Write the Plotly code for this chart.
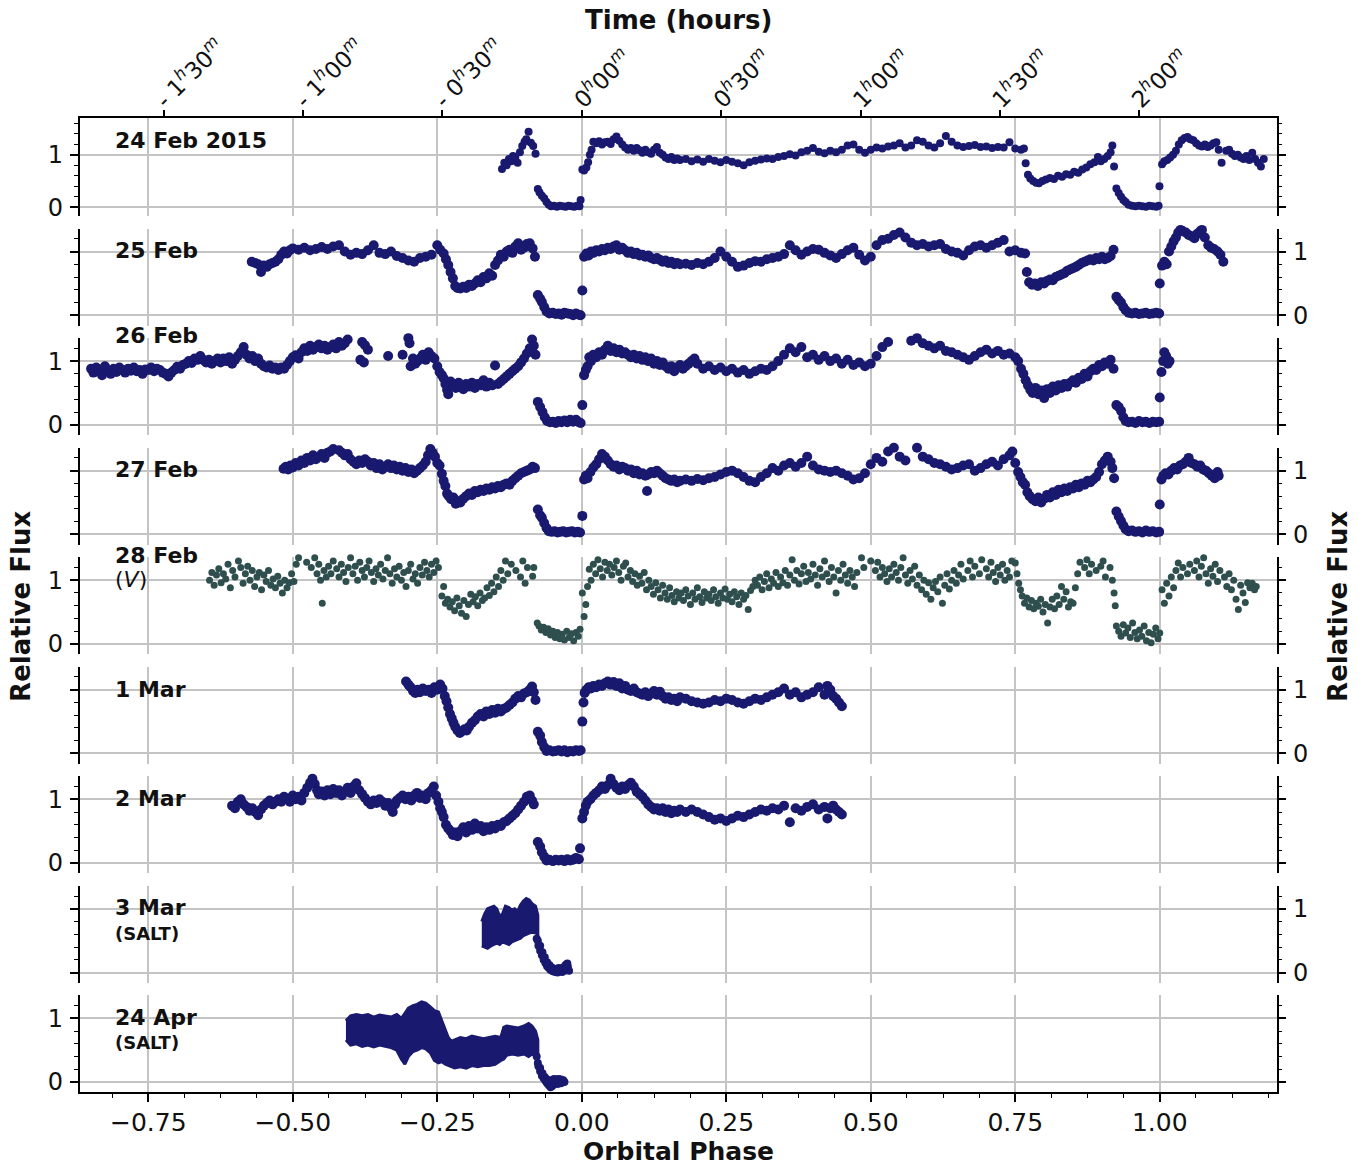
import plotly.graph_objects as go

NAVY = "#191970"
SLATE = "#2F4F4F"
GRID = "#c4c4c4"
PERIOD_HOURS = 2.0735  # orbital period used for the top time axis

# ---------------- data (orbital phase, relative flux) ----------------
feb24 = [
(-0.138,0.73),(-0.134,0.85),(-0.130,0.80),(-0.126,0.92),(-0.122,0.88),(-0.119,0.98),(-0.115,0.95),(-0.111,0.85),
(-0.107,1.05),(-0.103,1.17),(-0.099,1.25),(-0.096,1.30),(-0.092,1.44),(-0.088,1.23),(-0.084,1.17),(-0.080,1.02),
(-0.076,0.35),(-0.073,0.28),(-0.069,0.22),(-0.065,0.17),(-0.061,0.10),(-0.057,0.05),(-0.053,0.02),(-0.048,0.03),
(-0.043,0.01),(-0.038,0.03),(-0.033,0.02),(-0.028,0.01),(-0.023,0.03),(-0.018,0.02),(-0.013,0.01),(-0.008,0.03),
(-0.004,0.02),(-0.002,0.14),
(0.001,0.72),(0.004,0.70),(0.008,0.76),(0.011,0.86),(0.014,1.00),(0.017,1.10),(0.020,1.25),(0.025,1.22),(0.030,1.26),
(0.035,1.20),(0.040,1.24),(0.045,1.25),(0.050,1.21),(0.055,1.30),(0.060,1.35),(0.065,1.27),(0.070,1.20),(0.075,1.14),
(0.080,1.10),(0.085,1.13),(0.090,1.08),(0.095,1.13),(0.100,1.09),(0.105,1.04),(0.110,1.10),(0.115,1.05),(0.120,1.02),
(0.125,1.10),(0.130,1.15),(0.135,1.04),(0.140,1.00),(0.145,0.95),(0.150,0.92),(0.155,0.96),(0.160,0.90),(0.165,0.93),
(0.17,0.90),(0.18,0.92),(0.19,0.88),(0.20,0.91),(0.21,0.87),(0.22,0.92),(0.23,0.89),(0.24,0.86),(0.25,0.90),(0.26,0.87),
(0.27,0.84),(0.28,0.80),(0.29,0.86),(0.30,0.89),(0.31,0.91),(0.32,0.93),(0.33,0.92),(0.34,0.96),(0.35,0.98),(0.36,1.01),
(0.37,0.99),(0.38,1.05),(0.39,1.08),(0.40,1.13),(0.41,1.06),(0.42,1.03),(0.43,1.08),(0.44,1.05),(0.45,1.10),(0.46,1.18),
(0.47,1.20),(0.48,1.10),(0.49,1.04),(0.50,1.10),(0.51,1.14),(0.52,1.12),(0.53,1.16),(0.54,1.18),(0.55,1.22),(0.56,1.14),
(0.57,1.18),(0.58,1.28),(0.59,1.25),(0.60,1.18),(0.61,1.14),(0.62,1.22),(0.63,1.36),(0.64,1.25),(0.65,1.18),(0.66,1.15),
(0.67,1.17),(0.68,1.19),(0.69,1.15),(0.70,1.16),(0.71,1.13),(0.72,1.15),(0.73,1.14),(0.74,1.24),(0.75,1.12),(0.76,1.10),
(0.765,1.12),
(0.768,0.84),(0.772,0.62),(0.776,0.55),(0.781,0.50),(0.786,0.47),(0.791,0.46),(0.797,0.50),(0.803,0.53),(0.810,0.56),
(0.817,0.54),(0.824,0.60),(0.831,0.58),(0.838,0.63),(0.845,0.62),(0.852,0.68),(0.859,0.66),(0.866,0.72),(0.873,0.76),
(0.880,0.82),(0.887,0.86),(0.893,0.96),(0.898,0.88),(0.904,0.92),(0.910,0.98),(0.915,1.05),(0.918,1.18),(0.921,0.78),
(0.925,0.36),(0.929,0.27),(0.933,0.20),(0.937,0.14),(0.941,0.10),(0.946,0.05),(0.952,0.03),(0.958,0.02),(0.964,0.03),
(0.970,0.02),(0.976,0.01),(0.982,0.03),(0.988,0.02),(0.994,0.01),(0.998,0.03),(0.9995,0.40),
(1.004,0.82),(1.008,0.88),(1.013,0.90),(1.018,0.95),(1.023,1.00),(1.028,1.08),(1.033,1.20),(1.038,1.28),(1.043,1.32),
(1.048,1.34),(1.053,1.30),(1.058,1.28),(1.063,1.22),(1.068,1.18),(1.073,1.16),(1.078,1.20),(1.083,1.15),(1.088,1.18),
(1.093,1.22),(1.098,1.24),(1.102,1.10),(1.107,0.85),(1.115,1.08),(1.12,1.10),(1.125,1.02),(1.13,0.98),(1.135,1.00),
(1.14,0.95),(1.145,0.92),(1.15,0.98),(1.155,0.90),(1.16,1.04),(1.165,0.92),(1.17,0.85),(1.175,0.78),(1.18,0.92),
]

feb25 = [
(-0.571,0.84),(-0.565,0.82),(-0.560,0.80),(-0.555,0.68),(-0.550,0.78),(-0.545,0.76),(-0.540,0.80),(-0.535,0.82),
(-0.530,0.84),(-0.525,0.88),(-0.520,0.95),(-0.515,1.00),(-0.510,0.97),(-0.505,1.02),(-0.500,1.05),(-0.49,1.03),
(-0.48,1.06),(-0.47,1.02),(-0.46,1.04),(-0.45,1.07),(-0.44,1.04),(-0.43,1.08),(-0.42,1.10),(-0.41,1.00),(-0.40,0.95),
(-0.39,0.98),(-0.38,0.96),(-0.37,1.02),(-0.36,1.10),(-0.35,0.98),(-0.34,0.96),(-0.33,1.00),(-0.32,0.93),(-0.31,0.90),
(-0.30,0.86),(-0.29,0.84),(-0.28,0.90),(-0.27,0.92),(-0.26,0.95),(-0.25,1.10),(-0.245,1.03),(-0.239,0.97),(-0.235,0.88),
(-0.231,0.79),(-0.227,0.68),(-0.223,0.58),(-0.219,0.46),(-0.215,0.43),(-0.21,0.42),(-0.205,0.45),(-0.20,0.43),
(-0.195,0.48),(-0.19,0.46),(-0.185,0.50),(-0.18,0.55),(-0.175,0.52),(-0.17,0.60),(-0.165,0.58),(-0.16,0.66),
(-0.155,0.62),(-0.15,0.79),(-0.145,0.86),(-0.14,0.95),(-0.135,0.92),(-0.13,1.00),(-0.125,1.03),(-0.12,0.98),
(-0.115,1.08),(-0.11,1.13),(-0.105,1.03),(-0.10,1.06),(-0.095,1.12),(-0.09,1.13),(-0.085,1.05),(-0.081,0.92),
(-0.076,0.32),(-0.072,0.26),(-0.069,0.21),(-0.065,0.13),(-0.061,0.06),(-0.056,0.03),(-0.05,0.04),(-0.045,0.02),
(-0.04,0.03),(-0.035,0.01),(-0.03,0.04),(-0.025,0.03),(-0.02,0.02),(-0.015,0.00),(-0.01,0.03),(-0.005,0.01),(-0.002,0.00),
(0.001,0.39),(0.004,0.92),(0.008,0.97),(0.012,0.94),(0.016,1.00),(0.020,0.98),(0.025,1.02),(0.03,1.00),(0.035,1.04),
(0.04,1.02),(0.045,1.06),(0.05,1.04),(0.055,1.08),(0.06,1.10),(0.065,1.03),(0.07,1.06),(0.075,1.02),(0.08,0.98),
(0.085,1.00),(0.09,0.96),(0.095,0.98),(0.10,0.94),(0.105,0.95),(0.11,0.92),(0.115,0.94),(0.12,0.90),(0.125,0.88),
(0.13,0.90),(0.135,0.87),(0.14,0.84),(0.145,0.86),(0.15,0.82),(0.155,0.84),(0.16,0.80),(0.165,0.82),(0.17,0.80),
(0.18,0.81),(0.19,0.79),(0.20,0.82),(0.21,0.80),(0.22,0.84),(0.23,0.90),(0.24,1.00),(0.25,0.92),(0.26,0.84),(0.27,0.76),
(0.28,0.78),(0.29,0.82),(0.30,0.85),(0.31,0.84),(0.32,0.88),(0.33,0.90),(0.34,0.92),(0.35,0.96),(0.36,1.10),(0.37,1.02),
(0.38,0.95),(0.39,1.00),(0.40,1.04),(0.41,1.03),(0.42,0.98),(0.43,0.94),(0.44,0.90),(0.45,0.96),(0.46,1.02),(0.47,1.06),
(0.48,0.95),(0.49,0.86),(0.50,0.92),(0.51,1.10),(0.52,1.18),(0.53,1.20),(0.54,1.26),(0.55,1.30),(0.56,1.22),(0.57,1.14),
(0.58,1.10),(0.59,1.12),(0.60,1.08),(0.61,1.10),(0.62,1.12),(0.63,1.04),(0.64,1.00),(0.65,0.98),(0.66,0.94),(0.67,1.02),
(0.68,1.08),(0.69,1.10),(0.70,1.06),(0.71,1.10),(0.72,1.14),(0.73,1.18),(0.74,1.00),(0.75,1.02),(0.76,0.98),(0.767,0.97),
(0.770,0.68),(0.774,0.52),(0.779,0.48),(0.784,0.50),(0.789,0.46),(0.795,0.52),(0.80,0.50),(0.805,0.54),(0.81,0.56),
(0.815,0.55),(0.82,0.60),(0.825,0.62),(0.83,0.64),(0.835,0.66),(0.84,0.70),(0.845,0.72),(0.85,0.74),(0.855,0.76),
(0.86,0.79),(0.865,0.82),(0.87,0.84),(0.875,0.86),(0.88,0.88),(0.885,0.86),(0.89,0.90),(0.895,0.88),(0.90,0.92),
(0.905,0.88),(0.91,0.90),(0.915,0.93),(0.920,1.03),
(0.925,0.29),(0.929,0.24),(0.933,0.20),(0.937,0.13),(0.941,0.08),(0.946,0.04),(0.952,0.03),(0.958,0.04),(0.964,0.02),
(0.970,0.03),(0.976,0.04),(0.982,0.02),(0.988,0.03),(0.994,0.04),(0.999,0.03),
(1.0,0.50),(1.004,0.78),(1.008,0.84),(1.012,0.80),(1.016,1.00),(1.020,1.08),(1.024,1.16),(1.028,1.22),(1.032,1.30),
(1.036,1.34),(1.040,1.32),(1.045,1.30),(1.050,1.26),(1.055,1.24),(1.060,1.21),(1.065,1.28),(1.070,1.32),(1.073,1.34),
(1.078,1.22),(1.084,1.10),(1.089,1.06),(1.094,1.04),(1.10,1.00),(1.105,0.95),(1.11,0.84),
]

feb26 = [
(-0.849,0.88),(-0.845,0.82),(-0.84,0.90),(-0.835,0.85),(-0.83,0.78),(-0.825,0.92),(-0.82,0.84),(-0.815,0.80),
(-0.81,0.88),(-0.805,0.83),(-0.80,0.90),(-0.795,0.86),(-0.79,0.82),(-0.785,0.88),(-0.78,0.85),(-0.775,0.90),
(-0.77,0.84),(-0.765,0.86),(-0.76,0.80),(-0.755,0.87),(-0.75,0.86),(-0.745,0.90),(-0.74,0.84),(-0.735,0.88),
(-0.73,0.86),(-0.725,0.82),(-0.72,0.80),(-0.715,0.76),(-0.71,0.82),(-0.705,0.86),(-0.70,0.91),(-0.695,0.88),
(-0.69,0.94),(-0.685,0.96),(-0.68,1.00),(-0.675,0.97),(-0.67,1.04),(-0.665,1.02),(-0.66,1.08),(-0.655,1.02),
(-0.65,0.98),(-0.645,1.02),(-0.64,0.96),(-0.635,1.00),(-0.63,1.04),(-0.625,0.98),(-0.62,1.04),(-0.615,1.00),
(-0.61,1.06),(-0.605,0.96),(-0.60,1.02),(-0.595,1.08),(-0.59,1.14),(-0.585,1.22),(-0.58,1.10),(-0.575,1.04),
(-0.57,1.08),(-0.565,1.00),(-0.56,1.04),(-0.555,0.96),(-0.55,0.92),(-0.545,0.90),(-0.54,0.93),(-0.535,0.88),
(-0.53,0.90),(-0.525,0.86),(-0.52,0.90),(-0.515,0.88),(-0.51,0.94),(-0.505,1.00),(-0.50,1.06),(-0.495,1.09),
(-0.49,1.04),(-0.485,1.14),(-0.48,1.20),(-0.475,1.16),(-0.47,1.24),(-0.465,1.18),(-0.46,1.22),(-0.455,1.26),
(-0.45,1.20),(-0.445,1.24),(-0.44,1.18),(-0.435,1.22),(-0.43,1.26),(-0.425,1.20),(-0.42,1.30),(-0.415,1.24),
(-0.41,1.28),(-0.405,1.34),(-0.40,1.40),(-0.395,1.47),(-0.39,1.44),(-0.385,1.40),(-0.383,1.02),(-0.38,1.30),
(-0.377,0.98),(-0.375,1.25),(-0.37,1.18),(-0.335,1.08),(-0.31,1.10),(-0.304,1.53),(-0.300,1.36),(-0.298,1.28),
(-0.296,0.92),(-0.292,1.04),(-0.288,0.96),(-0.284,1.00),(-0.28,1.04),(-0.275,1.10),(-0.27,1.02),(-0.265,1.14),
(-0.26,1.08),(-0.255,1.04),(-0.25,0.92),(-0.246,0.83),(-0.242,0.78),(-0.239,0.73),(-0.236,0.64),(-0.233,0.55),
(-0.231,0.48),(-0.227,0.68),(-0.222,0.62),(-0.218,0.58),(-0.213,0.66),(-0.209,0.60),(-0.205,0.56),(-0.20,0.64),
(-0.195,0.60),(-0.19,0.66),(-0.185,0.58),(-0.18,0.64),(-0.175,0.62),(-0.17,0.70),(-0.165,0.60),(-0.16,0.66),
(-0.155,0.62),(-0.15,0.93),(-0.145,0.64),(-0.14,0.68),(-0.135,0.72),(-0.13,0.76),(-0.125,0.80),(-0.12,0.84),
(-0.115,0.88),(-0.11,0.92),(-0.105,0.98),(-0.10,1.04),(-0.095,1.12),(-0.09,1.20),(-0.086,1.34),(-0.083,1.24),
(-0.080,1.10),
(-0.076,0.36),(-0.072,0.28),(-0.068,0.20),(-0.064,0.12),(-0.060,0.06),(-0.055,0.04),(-0.05,0.05),(-0.045,0.03),
(-0.04,0.06),(-0.035,0.04),(-0.03,0.07),(-0.025,0.04),(-0.02,0.08),(-0.015,0.05),(-0.01,0.08),(-0.005,0.04),(-0.002,0.03),
(0.001,0.31),(0.004,0.78),(0.007,0.86),(0.01,0.92),(0.013,1.06),(0.016,1.00),(0.02,1.10),(0.025,1.06),(0.03,1.14),
(0.035,1.10),(0.04,1.18),(0.045,1.24),(0.05,1.16),(0.055,1.20),(0.06,1.14),(0.065,1.18),(0.07,1.12),(0.075,1.14),
(0.08,1.10),(0.085,1.06),(0.09,1.10),(0.095,1.04),(0.10,1.08),(0.105,1.02),(0.11,1.06),(0.115,1.00),(0.12,1.04),
(0.125,0.96),(0.13,1.00),(0.135,0.94),(0.14,0.98),(0.145,0.92),(0.15,0.88),(0.155,0.92),(0.16,0.84),(0.165,0.90),
(0.17,0.94),(0.175,0.88),(0.18,0.92),(0.185,0.96),(0.19,1.00),(0.195,1.04),(0.20,0.96),(0.21,0.88),(0.22,0.92),
(0.23,0.86),(0.24,0.90),(0.25,0.84),(0.26,0.88),(0.27,0.82),(0.28,0.86),(0.29,0.80),(0.30,0.84),(0.31,0.88),(0.32,0.86),
(0.33,0.92),(0.34,1.00),(0.35,1.10),(0.36,1.20),(0.37,1.14),(0.38,1.22),(0.39,1.06),(0.40,1.10),(0.41,1.02),(0.42,1.08),
(0.43,1.00),(0.44,1.04),(0.45,0.96),(0.46,1.02),(0.47,0.94),(0.48,0.98),(0.49,0.92),(0.50,0.96),(0.51,1.08),(0.52,1.22),
(0.53,1.30),(0.54,1.38),(0.55,1.48),(0.56,1.40),(0.57,1.32),(0.58,1.36),(0.59,1.28),(0.60,1.24),(0.61,1.20),(0.62,1.24),
(0.63,1.16),(0.64,1.14),(0.65,1.10),(0.66,1.06),(0.67,1.02),(0.68,1.08),(0.69,1.14),(0.70,1.18),(0.71,1.12),(0.72,1.16),
(0.73,1.10),(0.74,1.12),(0.75,1.06),(0.755,1.00),(0.76,0.88),(0.764,0.80),(0.768,0.70),(0.772,0.62),
(0.776,0.55),(0.78,0.50),(0.785,0.58),(0.79,0.48),(0.795,0.54),(0.80,0.42),(0.805,0.56),(0.81,0.50),(0.815,0.60),
(0.82,0.54),(0.825,0.62),(0.83,0.58),(0.835,0.64),(0.84,0.60),(0.845,0.66),(0.85,0.70),(0.855,0.66),(0.86,0.74),
(0.865,0.72),(0.87,0.80),(0.875,0.76),(0.88,0.84),(0.885,0.88),(0.89,0.86),(0.895,0.94),(0.90,0.92),(0.905,0.98),
(0.91,0.96),(0.915,1.02),(0.92,0.88),
(0.925,0.31),(0.929,0.28),(0.933,0.22),(0.937,0.12),(0.941,0.06),(0.946,0.04),(0.952,0.05),(0.958,0.03),(0.964,0.06),
(0.970,0.04),(0.976,0.05),(0.982,0.03),(0.988,0.05),(0.994,0.04),(0.999,0.05),
(1.0,0.43),(1.003,0.83),(1.006,1.00),(1.008,1.14),(1.011,1.08),(1.014,0.96),(1.017,1.00),
]

feb27 = [
(-0.516,1.03),(-0.512,1.06),(-0.508,1.02),(-0.504,1.08),(-0.50,1.05),(-0.495,1.12),(-0.49,1.08),(-0.485,1.16),
(-0.48,1.12),(-0.475,1.20),(-0.47,1.16),(-0.465,1.24),(-0.46,1.18),(-0.455,1.22),(-0.45,1.26),(-0.445,1.20),
(-0.44,1.28),(-0.435,1.30),(-0.43,1.34),(-0.425,1.39),(-0.42,1.32),(-0.415,1.28),(-0.41,1.24),(-0.405,1.26),
(-0.40,1.18),(-0.395,1.14),(-0.39,1.10),(-0.385,1.16),(-0.38,1.12),(-0.375,1.18),(-0.37,1.14),(-0.365,1.08),
(-0.36,1.12),(-0.355,1.04),(-0.35,1.10),(-0.345,1.02),(-0.34,1.06),(-0.335,1.10),(-0.33,1.04),(-0.325,1.08),
(-0.32,1.02),(-0.315,1.06),(-0.31,1.00),(-0.305,1.04),(-0.30,0.98),(-0.295,1.02),(-0.29,0.96),(-0.285,1.00),
(-0.28,1.04),(-0.275,1.08),(-0.27,1.14),(-0.266,1.24),(-0.262,1.34),(-0.258,1.28),(-0.254,1.22),(-0.25,1.12),
(-0.246,1.08),(-0.242,0.95),(-0.239,0.84),(-0.236,0.76),(-0.233,0.64),(-0.23,0.60),(-0.226,0.55),(-0.222,0.58),
(-0.218,0.48),(-0.214,0.52),(-0.21,0.50),(-0.205,0.56),(-0.20,0.60),(-0.195,0.64),(-0.19,0.62),(-0.185,0.68),
(-0.18,0.66),(-0.175,0.70),(-0.17,0.68),(-0.165,0.72),(-0.16,0.70),(-0.155,0.74),(-0.15,0.72),(-0.145,0.76),
(-0.14,0.74),(-0.135,0.78),(-0.13,0.80),(-0.125,0.78),(-0.12,0.84),(-0.115,0.88),(-0.11,0.92),(-0.105,0.96),
(-0.10,0.98),(-0.095,1.00),(-0.09,1.02),(-0.085,1.06),(-0.081,1.04),
(-0.076,0.39),(-0.072,0.30),(-0.069,0.26),(-0.065,0.18),(-0.061,0.10),(-0.057,0.05),(-0.052,0.04),(-0.047,0.05),
(-0.042,0.03),(-0.037,0.04),(-0.032,0.05),(-0.027,0.03),(-0.022,0.04),(-0.017,0.05),(-0.012,0.03),(-0.007,0.04),(-0.003,0.03),
(0.001,0.29),(0.004,0.86),(0.007,0.92),(0.01,0.88),(0.015,0.98),(0.02,1.05),(0.025,1.10),(0.03,1.18),(0.035,1.26),
(0.04,1.22),(0.045,1.16),(0.05,1.10),(0.055,1.06),(0.06,1.08),(0.065,1.02),(0.07,1.06),(0.075,1.04),(0.08,1.00),
(0.085,1.02),(0.09,0.96),(0.095,1.00),(0.10,0.94),(0.105,0.96),(0.11,0.92),(0.113,0.68),(0.115,0.94),(0.12,0.98),
(0.125,0.96),(0.13,1.00),(0.135,0.96),(0.14,0.92),(0.145,0.88),(0.15,0.86),(0.155,0.84),(0.16,0.86),(0.165,0.82),
(0.17,0.84),(0.18,0.86),(0.19,0.84),(0.20,0.87),(0.21,0.85),(0.22,0.88),(0.23,0.90),(0.24,0.94),(0.25,0.98),(0.26,1.00),
(0.27,0.96),(0.28,0.90),(0.29,0.84),(0.30,0.82),(0.31,0.90),(0.32,0.96),(0.33,1.04),(0.34,1.00),(0.35,1.08),(0.36,1.12),
(0.37,1.06),(0.38,1.12),(0.39,1.22),(0.40,1.08),(0.41,1.02),(0.42,1.00),(0.43,0.98),(0.44,1.00),(0.45,0.96),(0.46,0.92),
(0.47,0.86),(0.48,0.88),(0.49,0.96),(0.50,1.10),(0.51,1.20),(0.52,1.14),(0.53,1.30),(0.54,1.36),(0.55,1.22),(0.56,1.16),
(0.57,1.46),(0.58,1.36),(0.59,1.22),(0.60,1.18),(0.61,1.12),(0.62,1.10),(0.63,1.06),(0.64,1.02),(0.65,1.04),(0.66,1.08),
(0.67,1.10),(0.68,1.00),(0.69,1.04),(0.70,1.10),(0.71,1.14),(0.72,1.08),(0.73,1.18),(0.74,1.24),(0.745,1.30),(0.75,1.12),
(0.755,0.98),(0.759,0.90),(0.763,0.82),(0.767,0.78),(0.771,0.66),
(0.775,0.60),(0.78,0.55),(0.785,0.52),(0.79,0.58),(0.795,0.50),(0.80,0.56),(0.805,0.62),(0.81,0.58),(0.815,0.66),
(0.82,0.62),(0.825,0.70),(0.83,0.66),(0.835,0.72),(0.84,0.68),(0.845,0.74),(0.85,0.72),(0.855,0.78),(0.86,0.74),
(0.865,0.80),(0.87,0.78),(0.875,0.84),(0.88,0.82),(0.885,0.86),(0.89,0.90),(0.895,0.98),(0.90,1.10),(0.905,1.16),
(0.91,1.22),(0.915,1.14),(0.918,1.04),(0.921,0.88),
(0.925,0.36),(0.929,0.28),(0.933,0.21),(0.937,0.14),(0.941,0.08),(0.946,0.05),(0.952,0.06),(0.958,0.04),(0.964,0.05),
(0.970,0.03),(0.976,0.06),(0.982,0.04),(0.988,0.05),(0.994,0.03),(0.999,0.04),
(1.0,0.47),(1.003,0.86),(1.006,0.92),(1.01,0.96),(1.015,0.94),(1.02,1.00),(1.025,1.04),(1.03,1.02),(1.035,1.08),
(1.04,1.10),(1.045,1.14),(1.05,1.20),(1.055,1.12),(1.06,1.10),(1.065,1.06),(1.07,1.08),(1.075,1.02),(1.08,1.00),
(1.085,0.96),(1.09,0.92),(1.095,0.88),(1.10,0.98),(1.102,0.92),
]

feb28_v = [
(-0.644,1.00),(-0.640,1.12),(-0.636,0.92),(-0.632,1.08),(-0.628,1.18),(-0.624,0.96),(-0.620,1.10),(-0.616,1.02),
(-0.612,1.25),(-0.608,0.88),(-0.604,1.15),(-0.600,1.05),(-0.597,1.64),(-0.594,1.30),(-0.590,1.20),(-0.586,0.95),
(-0.582,1.10),(-0.578,1.22),(-0.574,1.00),(-0.570,1.15),(-0.566,0.90),(-0.562,1.05),(-0.558,1.12),(-0.554,0.85),
(-0.550,1.08),(-0.546,0.98),(-0.542,1.15),(-0.538,0.92),(-0.534,1.02),(-0.530,0.88),(-0.526,1.06),(-0.522,0.95),
(-0.518,0.80),(-0.514,1.00),(-0.510,0.88),(-0.506,0.96),(-0.502,1.10),(-0.498,0.98),(-0.494,1.25),(-0.490,1.35),
(-0.487,1.77),(-0.484,1.40),(-0.480,1.55),(-0.476,1.28),(-0.472,1.45),(-0.468,1.20),(-0.465,1.69),(-0.462,1.35),
(-0.458,1.10),(-0.455,1.25),(-0.452,1.00),(-0.449,0.64),(-0.446,1.15),(-0.442,1.05),(-0.438,1.22),(-0.434,1.10),
(-0.430,1.30),(-0.427,1.56),(-0.424,1.18),(-0.420,1.05),(-0.416,1.25),(-0.412,1.12),(-0.408,0.98),(-0.404,1.20),
(-0.400,1.35),(-0.396,1.10),(-0.392,1.22),(-0.388,1.00),(-0.384,1.28),(-0.380,1.15),(-0.376,1.05),(-0.372,1.20),
(-0.368,1.30),(-0.364,1.12),(-0.360,0.98),(-0.356,1.18),(-0.352,1.08),(-0.348,1.25),(-0.344,1.02),(-0.340,1.15),
(-0.336,1.35),(-0.332,1.10),(-0.328,0.95),(-0.324,1.18),(-0.320,1.05),(-0.316,1.22),(-0.312,1.00),(-0.308,1.12),
(-0.304,0.90),(-0.300,1.15),(-0.296,1.25),(-0.292,1.02),(-0.288,1.10),(-0.284,0.95),(-0.280,1.20),(-0.276,1.08),
(-0.272,1.28),(-0.268,1.15),(-0.264,1.05),(-0.260,1.25),(-0.256,1.12),(-0.252,1.30),(-0.248,1.20),(-0.245,1.38),
(-0.242,0.75),(-0.239,0.90),(-0.236,0.64),(-0.232,0.70),(-0.228,0.58),(-0.224,0.66),(-0.220,0.52),(-0.216,0.72),
(-0.212,0.60),(-0.208,0.48),(-0.204,0.68),(-0.200,0.43),(-0.196,0.62),(-0.192,0.78),(-0.188,0.66),(-0.184,0.74),
(-0.180,0.60),(-0.176,0.80),(-0.172,0.68),(-0.168,0.72),(-0.164,0.88),(-0.160,0.76),(-0.156,0.95),(-0.152,0.82),
(-0.148,1.05),(-0.144,0.90),(-0.140,1.15),(-0.136,1.00),(-0.132,1.30),(-0.128,1.10),(-0.125,1.53),(-0.122,1.25),
(-0.118,1.40),(-0.114,1.15),(-0.110,1.48),(-0.106,1.05),(-0.102,1.30),(-0.098,0.95),(-0.094,1.20),(-0.090,1.45),
(-0.087,1.59),(-0.085,1.06),(-0.083,1.20),(-0.080,1.38),
(-0.077,0.33),(-0.074,0.28),(-0.070,0.22),(-0.066,0.26),(-0.062,0.18),(-0.058,0.24),(-0.054,0.14),(-0.050,0.20),
(-0.046,0.10),(-0.042,0.18),(-0.038,0.08),(-0.034,0.15),(-0.030,0.06),(-0.026,0.20),(-0.022,0.10),(-0.018,0.16),
(-0.014,0.05),(-0.010,0.18),(-0.006,0.12),(-0.003,0.23),
(0.001,0.80),(0.004,0.43),(0.007,0.62),(0.010,0.90),(0.013,1.17),(0.016,1.00),(0.020,1.25),(0.024,1.10),(0.028,1.32),
(0.032,1.18),(0.036,1.05),(0.040,1.28),(0.044,1.15),(0.048,1.25),(0.052,1.08),(0.056,1.20),(0.060,1.30),(0.064,1.12),
(0.068,1.00),(0.072,1.22),(0.076,1.27),(0.080,1.05),(0.084,1.15),(0.088,0.98),(0.092,1.10),(0.096,0.92),(0.100,1.06),
(0.104,0.95),(0.108,1.12),(0.112,0.85),(0.116,1.00),(0.120,0.90),(0.124,0.78),(0.128,0.96),(0.132,0.85),(0.136,0.72),
(0.140,0.92),(0.144,0.80),(0.148,0.70),(0.152,0.88),(0.156,0.76),(0.160,0.66),(0.164,0.82),(0.168,0.72),(0.172,0.80),
(0.176,0.68),(0.180,0.85),(0.184,0.75),(0.188,0.62),(0.192,0.80),(0.196,0.70),(0.200,0.88),(0.204,0.74),(0.208,0.65),
(0.212,0.82),(0.216,0.72),(0.220,0.78),(0.224,0.68),(0.228,0.85),(0.232,0.74),(0.236,0.64),(0.240,0.80),(0.244,0.72),
(0.248,0.86),(0.252,0.70),(0.256,0.78),(0.260,0.66),(0.264,0.82),(0.268,0.74),(0.272,0.62),(0.276,0.80),(0.280,0.70),
(0.284,0.76),(0.288,0.54),(0.292,0.84),(0.296,0.90),(0.300,1.00),(0.304,0.92),(0.308,1.05),(0.312,0.85),(0.316,0.98),
(0.320,1.10),(0.324,0.88),(0.328,1.02),(0.332,0.95),(0.336,1.12),(0.340,0.90),(0.344,1.05),(0.348,0.96),(0.352,1.15),
(0.356,0.92),(0.360,1.08),(0.364,1.32),(0.368,1.00),(0.372,1.15),(0.376,0.94),(0.380,1.10),(0.384,1.22),(0.388,0.98),
(0.392,1.12),(0.396,1.02),(0.400,1.25),(0.404,1.08),(0.408,0.92),(0.412,1.18),(0.416,1.05),(0.420,1.30),(0.424,1.10),
(0.428,0.98),(0.432,1.20),(0.436,1.05),(0.440,0.80),(0.444,1.15),(0.448,1.00),(0.452,1.25),(0.456,1.08),(0.460,0.95),
(0.464,1.15),(0.468,1.05),(0.472,0.90),(0.476,1.12),(0.480,1.77),(0.484,1.35),(0.488,1.20),(0.492,1.45),(0.496,1.60),
(0.500,1.30),(0.504,1.38),(0.508,1.15),(0.512,1.28),(0.516,1.05),(0.520,1.20),(0.524,1.10),(0.528,0.98),(0.532,1.18),
(0.536,1.05),(0.540,1.25),(0.544,1.12),(0.548,1.00),(0.552,1.20),(0.556,1.35),(0.560,1.08),(0.564,0.95),(0.568,1.15),
(0.572,1.02),(0.576,1.22),(0.580,0.92),(0.584,1.08),(0.588,0.85),(0.592,1.00),(0.596,0.78),(0.600,0.96),(0.604,0.70),
(0.608,0.88),(0.612,0.98),(0.616,0.82),(0.620,1.05),(0.624,0.64),(0.628,0.92),(0.632,1.10),(0.636,0.86),(0.640,1.00),
(0.644,1.15),(0.648,0.95),(0.652,1.08),(0.656,1.25),(0.660,1.02),(0.664,1.38),(0.668,1.15),(0.672,1.30),(0.676,1.05),
(0.680,1.22),(0.684,1.45),(0.688,1.10),(0.692,1.32),(0.696,1.59),(0.700,1.18),(0.704,1.05),(0.708,1.28),(0.712,1.12),
(0.716,0.98),(0.720,1.20),(0.724,1.08),(0.728,1.25),(0.732,1.00),(0.736,1.15),(0.740,1.05),(0.744,1.30),(0.747,1.66),
(0.750,1.27),(0.753,1.10),(0.756,0.95),(0.759,0.85),(0.762,0.75),(0.766,0.64),(0.770,0.72),(0.774,0.58),(0.778,0.68),
(0.782,0.55),(0.786,0.64),(0.790,0.59),(0.794,0.70),(0.798,0.50),(0.802,0.62),(0.806,0.33),(0.810,0.58),(0.814,0.70),
(0.818,0.55),(0.822,0.75),(0.826,0.62),(0.830,0.90),(0.834,0.70),(0.838,0.82),(0.842,0.58),(0.846,0.66),(0.850,0.64),
(0.854,0.88),(0.858,1.10),(0.862,1.28),(0.866,1.38),(0.870,1.20),(0.874,1.32),(0.878,1.10),(0.882,1.25),(0.886,1.40),
(0.890,1.15),(0.894,1.43),(0.898,1.22),(0.902,1.30),(0.906,1.05),(0.910,1.53),(0.914,1.20),(0.918,1.00),(0.921,0.80),
(0.923,0.60),
(0.925,0.28),(0.929,0.20),(0.933,0.12),(0.937,0.30),(0.941,0.17),(0.945,0.25),(0.949,0.10),(0.953,0.33),(0.957,0.18),
(0.961,0.08),(0.965,0.22),(0.969,0.12),(0.973,0.28),(0.977,0.05),(0.981,0.18),(0.985,0.02),(0.989,0.15),(0.993,0.25),
(0.997,0.08),(1.000,0.17),
(1.004,0.85),(1.008,0.64),(1.012,0.95),(1.016,0.75),(1.020,1.05),(1.024,0.88),(1.028,1.15),(1.032,1.27),(1.036,1.05),
(1.040,1.20),(1.044,1.38),(1.048,1.10),(1.052,1.25),(1.056,1.48),(1.060,1.15),(1.064,1.30),(1.068,1.05),(1.072,1.22),
(1.076,1.35),(1.080,1.10),(1.084,0.95),(1.088,1.18),(1.092,1.06),(1.096,1.25),(1.100,0.98),(1.104,1.15),(1.108,1.43),
(1.112,1.05),(1.116,0.90),(1.120,1.10),(1.124,0.85),(1.128,1.00),(1.132,0.70),(1.136,0.54),(1.140,0.92),(1.144,0.80),
(1.148,0.65),(1.152,0.96),(1.156,0.88),(1.160,0.95),(1.164,0.85),(1.167,0.90),
]

mar1 = [
(-0.304,1.13),(-0.300,1.08),(-0.296,1.04),(-0.292,0.98),(-0.288,0.95),(-0.284,1.00),(-0.28,0.96),(-0.275,1.02),
(-0.27,0.98),(-0.265,1.00),(-0.26,0.95),(-0.255,1.04),(-0.25,1.00),(-0.245,1.08),(-0.241,1.02),(-0.237,0.90),
(-0.234,0.82),(-0.231,0.72),(-0.228,0.62),(-0.225,0.55),(-0.222,0.48),(-0.219,0.42),(-0.215,0.36),(-0.211,0.32),
(-0.207,0.35),(-0.203,0.38),(-0.199,0.36),(-0.195,0.42),(-0.19,0.48),(-0.185,0.52),(-0.18,0.58),(-0.175,0.62),
(-0.17,0.58),(-0.165,0.66),(-0.16,0.62),(-0.155,0.68),(-0.15,0.64),(-0.145,0.70),(-0.14,0.66),(-0.135,0.70),
(-0.13,0.72),(-0.125,0.76),(-0.12,0.80),(-0.115,0.86),(-0.11,0.90),(-0.105,0.88),(-0.10,0.94),(-0.095,0.96),
(-0.09,1.00),(-0.086,1.05),(-0.083,0.96),(-0.080,0.84),
(-0.076,0.34),(-0.072,0.28),(-0.069,0.18),(-0.065,0.10),(-0.061,0.04),(-0.056,0.05),(-0.05,0.03),(-0.045,0.04),
(-0.04,0.05),(-0.035,0.03),(-0.03,0.05),(-0.025,0.02),(-0.02,0.04),(-0.015,0.03),(-0.01,0.05),(-0.005,0.04),(-0.002,0.05),
(0.001,0.50),(0.003,0.80),(0.005,0.95),(0.008,1.00),(0.012,1.04),(0.016,1.02),(0.02,1.06),(0.025,1.04),(0.03,1.08),
(0.035,1.06),(0.04,1.10),(0.045,1.13),(0.05,1.08),(0.055,1.12),(0.06,1.06),(0.065,1.10),(0.07,1.02),(0.075,1.06),
(0.08,1.00),(0.085,0.98),(0.09,1.02),(0.095,0.96),(0.10,0.94),(0.105,0.92),(0.11,0.96),(0.115,0.90),(0.12,0.94),
(0.125,0.98),(0.13,0.92),(0.135,0.97),(0.14,0.90),(0.145,0.86),(0.15,0.88),(0.155,0.84),(0.16,0.86),(0.165,0.82),
(0.17,0.88),(0.18,0.86),(0.19,0.82),(0.20,0.80),(0.21,0.78),(0.22,0.80),(0.23,0.84),(0.24,0.82),(0.25,0.86),(0.26,0.84),
(0.27,0.80),(0.28,0.78),(0.29,0.82),(0.30,0.86),(0.31,0.84),(0.32,0.88),(0.33,0.92),(0.34,0.96),(0.35,1.02),(0.36,0.92),
(0.37,0.96),(0.38,0.88),(0.39,0.92),(0.40,0.96),(0.41,1.04),(0.42,0.92),(0.425,1.06),(0.43,1.00),(0.435,0.90),
(0.44,0.86),(0.445,0.80),(0.45,0.74),
]

mar2 = [
(-0.605,0.90),(-0.60,0.86),(-0.595,0.96),(-0.59,1.00),(-0.585,0.92),(-0.58,0.88),(-0.575,0.82),(-0.57,0.86),
(-0.565,0.80),(-0.56,0.75),(-0.555,0.84),(-0.55,0.90),(-0.545,0.94),(-0.54,0.98),(-0.535,0.92),(-0.53,0.96),
(-0.525,1.00),(-0.52,0.96),(-0.515,1.04),(-0.51,1.00),(-0.505,0.96),(-0.50,1.06),(-0.495,1.00),(-0.49,1.04),
(-0.485,0.98),(-0.48,1.10),(-0.475,1.18),(-0.47,1.26),(-0.466,1.32),(-0.462,1.24),(-0.458,1.14),(-0.455,1.08),
(-0.45,1.12),(-0.445,1.06),(-0.44,1.14),(-0.435,1.08),(-0.43,1.16),(-0.425,1.10),(-0.42,1.14),(-0.415,1.06),
(-0.41,1.12),(-0.405,1.18),(-0.40,1.10),(-0.395,1.20),(-0.39,1.25),(-0.385,1.14),(-0.38,1.08),(-0.375,1.02),
(-0.37,0.96),(-0.365,0.92),(-0.36,0.98),(-0.355,0.94),(-0.35,1.00),(-0.345,0.96),(-0.34,0.90),(-0.335,0.94),
(-0.33,0.86),(-0.327,0.80),(-0.323,0.92),(-0.32,0.98),(-0.315,1.02),(-0.31,1.06),(-0.305,1.00),(-0.30,1.04),
(-0.295,0.98),(-0.29,1.06),(-0.285,1.10),(-0.28,1.02),(-0.275,1.06),(-0.27,1.00),(-0.265,1.10),(-0.26,1.14),
(-0.256,1.20),(-0.252,1.06),(-0.248,0.96),(-0.245,0.86),(-0.242,0.80),(-0.239,0.72),(-0.235,0.60),(-0.231,0.54),
(-0.227,0.50),(-0.223,0.44),(-0.219,0.48),(-0.215,0.42),(-0.21,0.50),(-0.205,0.56),(-0.20,0.48),(-0.195,0.58),
(-0.19,0.52),(-0.185,0.62),(-0.18,0.54),(-0.175,0.58),(-0.17,0.50),(-0.165,0.56),(-0.16,0.52),(-0.155,0.58),
(-0.15,0.54),(-0.145,0.60),(-0.14,0.58),(-0.135,0.64),(-0.13,0.66),(-0.125,0.70),(-0.12,0.74),(-0.115,0.78),
(-0.11,0.84),(-0.105,0.90),(-0.10,0.96),(-0.095,1.04),(-0.09,1.06),(-0.086,0.98),(-0.083,0.92),
(-0.076,0.33),(-0.072,0.26),(-0.069,0.17),(-0.065,0.10),(-0.061,0.04),(-0.056,0.05),(-0.05,0.03),(-0.045,0.05),
(-0.04,0.04),(-0.035,0.05),(-0.03,0.03),(-0.025,0.06),(-0.02,0.04),(-0.015,0.05),(-0.01,0.08),(-0.005,0.06),(-0.003,0.23),
(0.001,0.70),(0.004,0.80),(0.007,0.90),(0.01,0.96),(0.015,1.00),(0.02,1.06),(0.025,1.10),(0.03,1.14),(0.035,1.20),
(0.04,1.16),(0.045,1.22),(0.05,1.32),(0.055,1.24),(0.06,1.18),(0.065,1.14),(0.07,1.20),(0.075,1.16),(0.08,1.22),
(0.085,1.26),(0.09,1.20),(0.095,1.12),(0.10,1.08),(0.105,1.04),(0.11,0.98),(0.115,0.92),(0.12,0.88),(0.125,0.84),
(0.13,0.86),(0.135,0.82),(0.14,0.86),(0.145,0.80),(0.15,0.84),(0.155,0.78),(0.16,0.82),(0.165,0.80),(0.17,0.84),
(0.18,0.80),(0.19,0.84),(0.20,0.80),(0.21,0.76),(0.22,0.72),(0.23,0.68),(0.24,0.70),(0.25,0.66),(0.26,0.70),(0.27,0.74),
(0.28,0.72),(0.29,0.76),(0.30,0.80),(0.31,0.84),(0.32,0.82),(0.33,0.86),(0.34,0.84),(0.35,0.90),(0.36,0.64),(0.37,0.86),
(0.38,0.82),(0.39,0.88),(0.40,0.92),(0.41,0.84),(0.42,0.88),(0.425,0.70),(0.43,0.86),(0.435,0.90),(0.44,0.84),
(0.445,0.80),(0.45,0.76),
]

# SALT runs: dense sampling drawn as a band between upper / lower envelopes
mar3_band_phase = [-0.173,-0.168,-0.163,-0.157,-0.152,-0.147,-0.142,-0.137,-0.132,-0.126,-0.121,-0.116,-0.111,
                   -0.106,-0.101,-0.096,-0.091,-0.086,-0.080,-0.076]
mar3_band_upper = [0.80,0.92,1.00,1.02,1.04,1.00,0.88,0.92,1.04,1.02,0.98,1.00,0.96,1.06,1.12,1.16,1.14,1.08,1.04,0.90]
mar3_band_lower = [0.42,0.40,0.38,0.42,0.44,0.46,0.44,0.48,0.46,0.44,0.48,0.50,0.52,0.54,0.58,0.60,0.62,0.63,0.62,0.60]
mar3_tail = [
(-0.078,0.53),(-0.075,0.42),(-0.072,0.34),(-0.069,0.27),(-0.066,0.20),(-0.063,0.15),(-0.060,0.10),(-0.057,0.07),
(-0.054,0.04),(-0.050,0.02),(-0.046,0.01),(-0.042,0.00),(-0.038,0.02),(-0.034,0.01),(-0.030,0.03),(-0.027,0.06),
(-0.024,0.09),(-0.022,0.03),
(-0.076,0.50),(-0.072,0.42),(-0.068,0.32),(-0.064,0.24),(-0.060,0.16),(-0.056,0.12),(-0.052,0.08),(-0.048,0.06),
(-0.044,0.05),(-0.040,0.07),(-0.036,0.06),(-0.032,0.08),(-0.028,0.12),(-0.025,0.14),
]

apr24_band_phase = [-0.408,-0.400,-0.390,-0.380,-0.370,-0.360,-0.350,-0.340,-0.330,-0.320,-0.312,-0.306,-0.300,
                    -0.292,-0.285,-0.277,-0.270,-0.262,-0.255,-0.248,-0.242,-0.236,-0.231,-0.226,-0.220,-0.210,
                    -0.200,-0.190,-0.180,-0.170,-0.160,-0.150,-0.140,-0.135,-0.130,-0.120,-0.110,-0.100,-0.092,
                    -0.086,-0.080,-0.076]
apr24_band_upper = [0.96,1.04,1.06,1.04,1.06,1.02,1.05,1.04,1.02,1.06,1.00,1.08,1.16,1.20,1.22,1.26,1.24,1.18,1.12,
                    1.10,0.96,0.82,0.70,0.64,0.66,0.70,0.68,0.72,0.70,0.68,0.70,0.72,0.70,0.86,0.88,0.86,0.85,
                    0.88,0.92,0.88,0.80,0.66]
apr24_band_lower = [0.66,0.58,0.60,0.56,0.58,0.55,0.58,0.56,0.54,0.50,0.36,0.28,0.40,0.48,0.50,0.54,0.52,0.46,0.34,
                    0.30,0.32,0.28,0.26,0.24,0.22,0.24,0.22,0.26,0.24,0.26,0.26,0.28,0.34,0.36,0.42,0.44,0.42,
                    0.44,0.40,0.44,0.42,0.40]
apr24_tail = [
(-0.078,0.40),(-0.075,0.25),(-0.072,0.17),(-0.069,0.10),(-0.066,0.06),(-0.063,0.02),(-0.060,-0.02),(-0.057,-0.05),
(-0.054,-0.08),(-0.051,-0.06),(-0.048,-0.02),(-0.045,0.00),(-0.042,-0.03),(-0.039,0.01),(-0.036,-0.02),(-0.033,0.02),
(-0.030,0.00),
(-0.076,0.30),(-0.072,0.22),(-0.068,0.14),(-0.064,0.08),(-0.060,0.04),(-0.056,0.02),(-0.052,0.03),(-0.048,0.05),
(-0.044,0.04),(-0.040,0.05),(-0.036,0.04),(-0.032,0.03),
]

panel_names = ["24 Feb 2015", "25 Feb", "26 Feb", "27 Feb", "28 Feb", "1 Mar", "2 Mar", "3 Mar", "24 Apr"]
panel_sub = [None, None, None, None, "(<i>V</i>)", None, None, "(SALT)", "(SALT)"]

phase_ticks = [-0.75, -0.50, -0.25, 0.00, 0.25, 0.50, 0.75, 1.00]
phase_tick_text = ["\u22120.75", "\u22120.50", "\u22120.25", "0.00", "0.25", "0.50", "0.75", "1.00"]
time_tick_hours = [-1.5, -1.0, -0.5, 0.0, 0.5, 1.0, 1.5, 2.0]
time_tick_text = ["- 1<sup><i>h</i></sup>30<sup><i>m</i></sup>", "- 1<sup><i>h</i></sup>00<sup><i>m</i></sup>",
                  "- 0<sup><i>h</i></sup>30<sup><i>m</i></sup>", "0<sup><i>h</i></sup>00<sup><i>m</i></sup>",
                  "0<sup><i>h</i></sup>30<sup><i>m</i></sup>", "1<sup><i>h</i></sup>00<sup><i>m</i></sup>",
                  "1<sup><i>h</i></sup>30<sup><i>m</i></sup>", "2<sup><i>h</i></sup>00<sup><i>m</i></sup>"]

# ---------------- layout geometry (page pixels) ----------------
W, H = 1365, 1172
def px_x(p):
    return p / W
def px_y(p):
    return 1 - p / H

X_DOM = [px_x(79.5), px_x(1276.5)]
X_RANGE = [-0.869, 1.202]
tops = [118.3, 229.8, 339.9, 450.0, 560.1, 670.2, 780.3, 890.4, 1000.5]
bots = [217.0, 327.2, 437.3, 547.4, 657.5, 767.6, 877.7, 987.8, 1097.9]
y_ranges = [[-0.165, 1.71]] + [[-0.16, 1.36]] * 8
label_py = [141, 252, 337, 472, 558, 693, 803, 912, 1023]
sub_py = [None, None, None, None, 582, None, None, 938, 1048]

FONT = "DejaVu Sans"
TXT = "#111111"

fig = go.Figure()

def unzip(pairs):
    return [p[0] for p in pairs], [p[1] for p in pairs]

point_sets = [feb24, feb25, feb26, feb27, feb28_v, mar1, mar2]
marker_sizes = [8, 10, 10, 10, 7, 10, 10]
for i, pts in enumerate(point_sets):
    n = "" if i == 0 else str(i + 1)
    xs, ys = unzip(pts)
    fig.add_trace(go.Scatter(x=xs, y=ys, mode="markers", xaxis="x" + n, yaxis="y" + n, cliponaxis=False,
                             marker=dict(size=marker_sizes[i], color=SLATE if i == 4 else NAVY, line=dict(width=0)),
                             hoverinfo="skip", showlegend=False))

for i, (bp, bu, bl, tail) in enumerate([(mar3_band_phase, mar3_band_upper, mar3_band_lower, mar3_tail),
                                        (apr24_band_phase, apr24_band_upper, apr24_band_lower, apr24_tail)]):
    n = str(8 + i)
    fig.add_trace(go.Scatter(x=bp + bp[::-1], y=bu + bl[::-1], mode="lines", fill="toself",
                             fillcolor=NAVY, line=dict(color=NAVY, width=3), cliponaxis=False,
                             xaxis="x" + n, yaxis="y" + n, hoverinfo="skip", showlegend=False))
    xs, ys = unzip(tail)
    fig.add_trace(go.Scatter(x=xs, y=ys, mode="markers", xaxis="x" + n, yaxis="y" + n, cliponaxis=False,
                             marker=dict(size=8, color=NAVY, line=dict(width=0)),
                             hoverinfo="skip", showlegend=False))

# invisible trace for the top time axis
fig.add_trace(go.Scatter(x=[0], y=[None], xaxis="x10", yaxis="y", mode="markers",
                         hoverinfo="skip", showlegend=False))

layout = dict(width=W, height=H, margin=dict(l=0, r=0, t=0, b=0), paper_bgcolor="white",
              plot_bgcolor="white", showlegend=False, font=dict(family=FONT, size=24, color=TXT))

for i in range(9):
    n = "" if i == 0 else str(i + 1)
    last = (i == 8)
    xa = dict(domain=X_DOM, range=X_RANGE, anchor="y" + n, tickmode="array", tickvals=phase_ticks,
              ticktext=phase_tick_text, showgrid=True, gridcolor=GRID, gridwidth=1.5, zeroline=False,
              showticklabels=last, ticks="outside" if last else "", showline=last, linecolor="black",
              linewidth=1.5, ticklen=8, tickwidth=1.5, tickcolor="black", ticklabelstandoff=-1,
              tickfont=dict(family=FONT, size=25, color=TXT))
    if last:
        xa["minor"] = dict(tickmode="linear", tick0=0, dtick=0.0625, ticks="outside", ticklen=4,
                           tickwidth=1.2, tickcolor="black", showgrid=False)
    layout["xaxis" + n] = xa
    ya = dict(domain=[px_y(bots[i]), px_y(tops[i])], range=y_ranges[i], anchor="x" + n,
              tickmode="array", tickvals=[0, 1], ticktext=["0", "1"],
              side="left" if i % 2 == 0 else "right", showline=True, mirror="ticks",
              linecolor="black", linewidth=1.5, ticks="outside", ticklen=8, tickwidth=1.5,
              tickcolor="black", showgrid=True, gridcolor=GRID, gridwidth=1.5, zeroline=False,
              ticklabelstandoff=2,
              tickfont=dict(family=FONT, size=24, color=TXT),
              minor=dict(tickmode="linear", tick0=0, dtick=0.2, ticks="outside", ticklen=4,
                         tickwidth=1.2, tickcolor="black", showgrid=False))
    layout["yaxis" + n] = ya

layout["xaxis10"] = dict(overlaying="x", anchor="y", side="top",
                         range=[X_RANGE[0] * PERIOD_HOURS, X_RANGE[1] * PERIOD_HOURS],
                         tickmode="array", tickvals=time_tick_hours, ticktext=time_tick_text,
                         tickangle=-45, ticks="outside", ticklen=6, tickwidth=1.5, tickcolor="black",
                         showline=True, linecolor="black", linewidth=1.5, showgrid=False, zeroline=False,
                         ticklabelstandoff=-12, ticklabelshift=-6,
                         tickfont=dict(family=FONT, size=23, color=TXT))

ann = []
for i in range(9):
    ann.append(dict(text="<b>%s</b>" % panel_names[i], x=px_x(113), xref="paper", xanchor="left",
                    y=px_y(label_py[i]), yref="paper", yanchor="middle", showarrow=False,
                    font=dict(family=FONT, size=22, color=TXT)))
    if panel_sub[i]:
        bold = panel_sub[i].startswith("(SALT")
        ann.append(dict(text=("<b>%s</b>" % panel_sub[i]) if bold else panel_sub[i],
                        x=px_x(113), xref="paper", xanchor="left", y=px_y(sub_py[i]), yref="paper",
                        yanchor="middle", showarrow=False,
                        font=dict(family=FONT, size=18 if bold else 22, color=TXT)))

ann.append(dict(text="<b>Time (hours)</b>", x=px_x(678), y=px_y(20), xref="paper", yref="paper",
                xanchor="center", yanchor="middle", showarrow=False,
                font=dict(family=FONT, size=26, color=TXT)))
ann.append(dict(text="<b>Orbital Phase</b>", x=px_x(678), y=px_y(1157), xref="paper", yref="paper",
                xanchor="center", yanchor="middle", showarrow=False,
                font=dict(family=FONT, size=25, color=TXT)))
for xpx in (21, 1338):
    ann.append(dict(text="<b>Relative Flux</b>", x=px_x(xpx), y=px_y(610), xref="paper", yref="paper",
                    xanchor="center", yanchor="middle", textangle=-90, showarrow=False,
                    font=dict(family=FONT, size=26, color=TXT)))
layout["annotations"] = ann

fig.update_layout(**layout)
# the page body's default 8 px margin would push the figure off its intended pixel grid
fig.write_html("out.html", config={"displayModeBar": False},
               post_script="document.body.style.margin='0px';")
